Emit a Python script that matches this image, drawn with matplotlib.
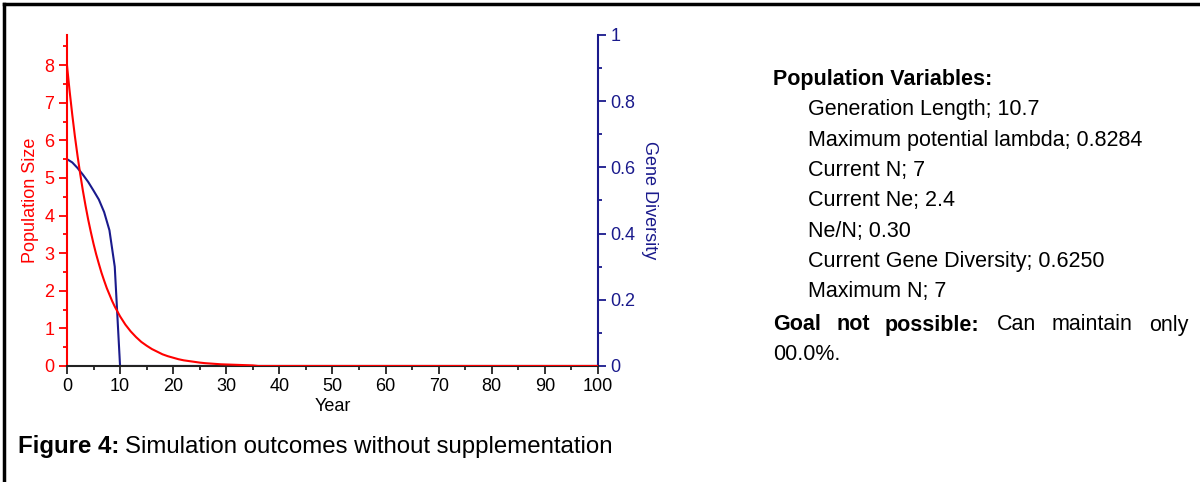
import matplotlib.pyplot as plt
from matplotlib.ticker import MultipleLocator
from matplotlib.lines import Line2D

plt.rcParams["font.family"] = ["Liberation Sans", "DejaVu Sans"]

# -----------------------------
# Data
# -----------------------------
pop_years = [0, 0.5, 1, 1.5, 2, 2.5, 3, 3.5, 4, 4.5, 5, 5.5, 6, 6.5, 7, 7.5, 8, 8.5, 9, 9.5,
             10, 11, 12, 13, 14, 15, 16, 17, 18, 19, 20, 21, 22, 23, 24, 25, 26, 27, 28, 29,
             30, 31, 32, 33, 34, 35, 36, 100]
pop_size = [8.0, 7.31, 6.68, 6.1, 5.58, 5.1, 4.66, 4.26, 3.89, 3.56, 3.25, 2.97, 2.72, 2.48, 2.27, 2.07,
            1.9, 1.73, 1.58, 1.45,
            1.32, 1.1, 0.92, 0.77, 0.64, 0.54, 0.45, 0.38, 0.31, 0.26,
            0.22, 0.18, 0.15, 0.13, 0.11, 0.09, 0.075, 0.065, 0.055, 0.045,
            0.04, 0.035, 0.03, 0.025, 0.02, 0.015, 0.0, 0.0]

gd_years = [0, 1, 2, 3, 4, 5, 6, 7, 8, 9, 10, 100]
gene_div = [0.625, 0.615, 0.598, 0.578, 0.556, 0.53, 0.503, 0.465, 0.41, 0.30, 0.0, 0.0]

x_ticks = [0, 10, 20, 30, 40, 50, 60, 70, 80, 90, 100]

info_lines = [
    "Generation Length; 10.7",
    "Maximum potential lambda; 0.8284",
    "Current N; 7",
    "Current Ne; 2.4",
    "Ne/N; 0.30",
    "Current Gene Diversity; 0.6250",
    "Maximum N; 7",
]

RED = "#ff0000"
NAVY = "#1a1a8c"

fig = plt.figure(figsize=(12, 4.82), dpi=100)

# -----------------------------
# Main axes
# -----------------------------
ax = fig.add_axes([0.0558, 0.2407, 0.4425, 0.6867])
ax2 = ax.twinx()

ax2.plot(gd_years, gene_div, color=NAVY, lw=1.5, zorder=2)
ax.plot(pop_years, pop_size, color=RED, lw=1.5, zorder=3)
ax.set_zorder(ax2.get_zorder() + 1)
ax.patch.set_visible(False)

ax.set_xlim(0, 100)
ax.set_ylim(0, 8.8)
ax2.set_ylim(0, 1.0)

ax.set_xticks(x_ticks)
ax.xaxis.set_minor_locator(MultipleLocator(5))
ax.yaxis.set_major_locator(MultipleLocator(1))
ax.yaxis.set_minor_locator(MultipleLocator(0.5))
ax2.set_yticks([0, 0.2, 0.4, 0.6, 0.8, 1.0])
ax2.set_yticklabels(["0", "0.2", "0.4", "0.6", "0.8", "1"])
ax2.yaxis.set_minor_locator(MultipleLocator(0.1))

for a in (ax, ax2):
    a.spines["top"].set_visible(False)
ax.spines["right"].set_visible(False)
ax2.spines["left"].set_visible(False)
ax2.spines["bottom"].set_visible(False)

ax.spines["left"].set_color(RED)
ax.spines["left"].set_linewidth(1.5)
ax.spines["bottom"].set_color("#222222")
ax.spines["bottom"].set_linewidth(1.5)
ax2.spines["right"].set_color(NAVY)
ax2.spines["right"].set_linewidth(1.5)

ax.tick_params(axis="x", which="major", length=6, width=1.3, colors="#222222", labelsize=13, labelcolor="black", pad=3)
ax.tick_params(axis="x", which="minor", length=3, width=1.3, colors="#222222")
ax.tick_params(axis="y", which="major", length=6, width=1.3, colors=RED, labelsize=13, pad=3)
ax.tick_params(axis="y", which="minor", length=3, width=1.3, colors=RED)
ax2.tick_params(axis="y", which="major", length=6, width=1.3, colors=NAVY, labelsize=13, pad=3)
ax2.tick_params(axis="y", which="minor", length=3, width=1.3, colors=NAVY)

ax.set_xlabel("Year", fontsize=13, labelpad=2)
ax.set_ylabel("Population Size", fontsize=13, color=RED, labelpad=4)
ax2.set_ylabel("Gene Diversity", fontsize=13, color=NAVY, rotation=-90, labelpad=16)

# -----------------------------
# Text on the right
# -----------------------------
fs = 15.5
fig.text(773 / 1200, 1 - 80 / 482, "Population Variables:", fontsize=fs,
         fontweight="bold", va="center")
for i, line in enumerate(info_lines):
    fig.text(808 / 1200, 1 - (110 + 30.3 * i) / 482, line, fontsize=fs, va="center")

# justified line: place words at the reference positions
goal_words = [("Goal", 773, "bold"), ("not", 837, "bold"), ("possible:", 885, "bold"),
              ("Can", 997, "normal"), ("maintain", 1052, "normal")]
for word, xp, wt in goal_words:
    fig.text(xp / 1200, 1 - 325 / 482, word, fontsize=fs, fontweight=wt, va="center")
fig.text(1188 / 1200, 1 - 325 / 482, "only", fontsize=fs, ha="right", va="center")
fig.text(773 / 1200, 1 - 354 / 482, "00.0%.", fontsize=fs, va="center")

# Caption
cap_bold = fig.text(18 / 1200, 1 - 447 / 482, "Figure 4:", fontsize=17.3, fontweight="bold", va="center")
fig.canvas.draw()
bb = cap_bold.get_window_extent(renderer=fig.canvas.get_renderer())
fig.text((bb.x1 + 6) / 1200, 1 - 447 / 482, "Simulation outcomes without supplementation",
         fontsize=17.3, va="center")

# Frame lines (top and left)
fig.add_artist(Line2D([4 / 1200, 4 / 1200], [0, 1 - 4 / 482], color="black", lw=2.5, transform=fig.transFigure))
fig.add_artist(Line2D([4 / 1200, 1], [1 - 4 / 482, 1 - 4 / 482], color="black", lw=2.5, transform=fig.transFigure))

fig.savefig("out.png", dpi=100)
